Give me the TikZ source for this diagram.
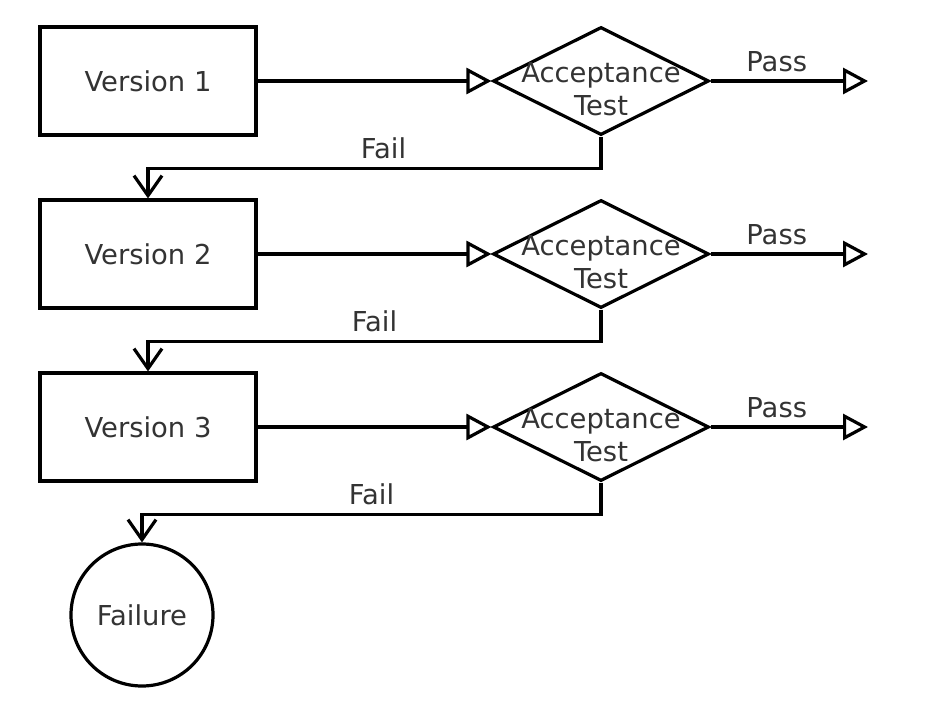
\documentclass[tikz,border=0pt]{standalone}
\usepackage{fontspec}
\setmainfont{DejaVu Sans}
\usetikzlibrary{shapes.geometric,arrows.meta}

\begin{document}
\begin{tikzpicture}[x=1pt, y=-1pt,
      every node/.style={font=\fontsize{27.4}{33}\selectfont, text=black!80},
      version/.style={rectangle, draw=black, line width=3.2pt, minimum width=216pt, minimum height=108pt},
      test/.style={diamond, draw=black, line width=3.2pt, minimum width=216pt, minimum height=108pt, inner sep=0pt,
        label={[align=center, yshift=-8pt]center:Acceptance\\Test}},
      failure/.style={circle, draw=black, line width=3.2pt, minimum size=142pt, inner sep=0pt},
      arrow/.style={line width=3.2pt, -{Triangle[open, length=25pt, width=26pt]}},
      failarrow/.style={line width=3.2pt, -{Straight Barb[length=20pt, width=28pt]}}
    ]
      \useasboundingbox (0,0) rectangle (946,726);

      \node[version] (v1) at (148,81)  {Version 1};
      \node[test]    (t1) at (601,81)  {};
      \coordinate    (p1) at (868,81);
      \node[version] (v2) at (148,254) {Version 2};
      \node[test]    (t2) at (601,254) {};
      \coordinate    (p2) at (868,254);
      \node[version] (v3) at (148,427) {Version 3};
      \node[test]    (t3) at (601,427) {};
      \coordinate    (p3) at (868,427);
      \node[failure] (fail) at (142,615) {Failure};

      \draw[arrow] (v1) -- (t1);
      \draw[arrow] (t1) -- (p1) node[pos=0.42, above=4pt] {Pass};
      \draw[failarrow] (t1.south) -- ++(0,32) -| node[pos=0.24, above=5pt] {Fail} (v2.north);

      \draw[arrow] (v2) -- (t2);
      \draw[arrow] (t2) -- (p2) node[pos=0.42, above=4pt] {Pass};
      \draw[failarrow] (t2.south) -- ++(0,32) -| node[pos=0.25, above=5pt] {Fail} (v3.north);

      \draw[arrow] (v3) -- (t3);
      \draw[arrow] (t3) -- (p3) node[pos=0.42, above=4pt] {Pass};
      \draw[failarrow] (t3.south) -- ++(0,32) -| node[pos=0.25, above=5pt] {Fail} (fail.north);
    \end{tikzpicture}
\end{document}
